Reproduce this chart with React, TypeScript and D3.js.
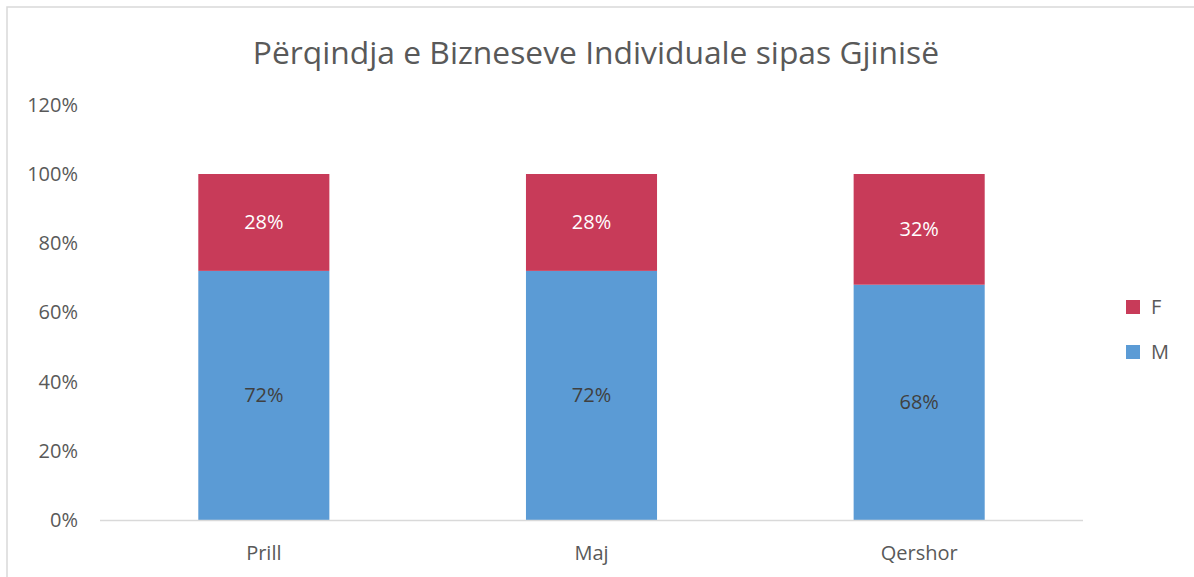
import React from "react";
import * as d3 from "d3";

const categories = ["Prill", "Maj", "Qershor"];
const seriesNames = ["M", "F"];
const valuesM = [0.72, 0.72, 0.68];
const valuesF = [0.28, 0.28, 0.32];
const yTicks = [0, 0.2, 0.4, 0.6, 0.8, 1.0, 1.2];
const title = "Përqindja e Bizneseve Individuale sipas Gjinisë";

const W = 1194;
const H = 577;
const FONT = "'Open Sans', sans-serif";
const colors: Record<string, string> = { M: "#5b9bd5", F: "#c83b59" };
const labelColors: Record<string, string> = { M: "#404040", F: "#ffffff" };

export default function App() {
  const x = d3
    .scaleBand<string>()
    .domain(categories)
    .range([100, 1083])
    .paddingInner(0.6)
    .paddingOuter(0.3);
  const y = d3.scaleLinear().domain([0, 1.2]).range([520, 104.8]);

  const table = categories.map((c, i) => ({ cat: c, M: valuesM[i], F: valuesF[i] }));
  const stacked = d3.stack<any>().keys(seriesNames)(table);
  const fmt = d3.format(".0%");
  const fs = 20;

  return (
    <svg
      width={W}
      height={H}
      style={{ position: "absolute", left: 0, top: 0, background: "#fff" }}
      fontFamily={FONT}
    >
      <rect x={0} y={0} width={W} height={H} fill="#ffffff" />
      <rect x={7} y={7} width={W + 20} height={H + 20} fill="none" stroke="#d9d9d9" strokeWidth={1.5} />
      <text x={596} y={64} textAnchor="middle" fontSize={31.8} fill="#595959">
        {title}
      </text>
      {yTicks.map((t) => (
        <text
          key={t}
          x={78}
          y={y(t)}
          dy="0.35em"
          textAnchor="end"
          fontSize={fs}
          fill="#595959"
        >
          {fmt(t)}
        </text>
      ))}
      {stacked.map((s) =>
        s.map((d, i) => {
          const cat = categories[i];
          const x0 = x(cat)!;
          const y0 = y(d[1]);
          const h = y(d[0]) - y(d[1]);
          return (
            <g key={s.key + cat}>
              <rect x={x0} y={y0} width={x.bandwidth()} height={h} fill={colors[s.key]} />
              <text
                x={x0 + x.bandwidth() / 2}
                y={y0 + h / 2}
                dy="0.35em"
                textAnchor="middle"
                fontSize={fs}
                fill={labelColors[s.key]}
              >
                {fmt(d[1] - d[0])}
              </text>
            </g>
          );
        })
      )}
      <line x1={100} x2={1083} y1={520.5} y2={520.5} stroke="#d9d9d9" strokeWidth={1.5} />
      {categories.map((c) => (
        <text
          key={c}
          x={x(c)! + x.bandwidth() / 2}
          y={553}
          dy="0.35em"
          textAnchor="middle"
          fontSize={fs}
          fill="#595959"
        >
          {c}
        </text>
      ))}
      {["F", "M"].map((k, i) => (
        <g key={k}>
          <rect x={1126} y={300 + i * 45} width={14} height={14} fill={colors[k]} />
          <text x={1151} y={307 + i * 45} dy="0.35em" fontSize={fs} fill="#595959">
            {k}
          </text>
        </g>
      ))}
    </svg>
  );
}
